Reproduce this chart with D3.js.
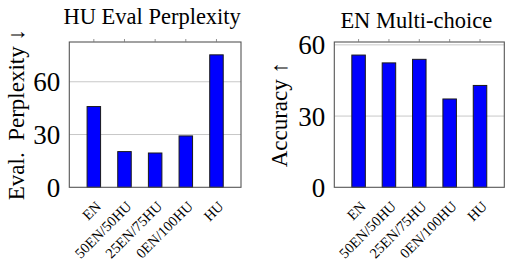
<!DOCTYPE html>
<html>
<head>
<meta charset="utf-8">
<script src="https://cdn.jsdelivr.net/npm/d3@7"></script>
<style>
  body { margin: 0; background: #fff; }
  text { font-family: "Liberation Serif", "Times New Roman", serif; fill: #000; }
</style>
</head>
<body>
<svg id="chart" width="506" height="264"></svg>
<script>
const mixes = ["EN", "50EN/50HU", "25EN/75HU", "0EN/100HU", "HU"];
const perplexity = [45.9, 20.3, 19.5, 29.2, 75.3];
const accuracy = [55.7, 52.4, 53.9, 37.2, 42.9];
const yTicks = [0, 30, 60];

const svg = d3.select("#chart");
const plotTop = 42, plotBottom = 187.3;

function panel(cfg) {
  const g = svg.append("g");
  const x = d3.scaleLinear().domain([-0.8, mixes.length - 0.2]).range([cfg.left, cfg.right]);
  const y = d3.scaleLinear().domain([0, cfg.ymax]).range([plotBottom, plotTop]);

  // grid
  g.selectAll(".grid").data(yTicks.filter(d => d > 0)).enter().append("line")
    .attr("x1", cfg.left).attr("x2", cfg.right)
    .attr("y1", d => y(d)).attr("y2", d => y(d))
    .attr("stroke", "#c8c8c8").attr("stroke-width", 1);

  // bars
  const bw = 13.5;
  g.selectAll(".bar").data(cfg.values).enter().append("rect")
    .attr("x", (d, i) => x(i) - bw / 2)
    .attr("y", d => y(d))
    .attr("width", bw)
    .attr("height", d => plotBottom - y(d))
    .attr("fill", "#0000ff")
    .attr("stroke", "#1a1a1a")
    .attr("stroke-width", 1);

  // frame
  g.append("rect")
    .attr("x", cfg.left).attr("y", plotTop)
    .attr("width", cfg.right - cfg.left).attr("height", plotBottom - plotTop)
    .attr("fill", "none").attr("stroke", "#555").attr("stroke-width", 1.1);

  // top ticks
  g.selectAll(".tt").data(mixes).enter().append("line")
    .attr("x1", (d, i) => x(i)).attr("x2", (d, i) => x(i))
    .attr("y1", plotTop).attr("y2", plotTop - 3)
    .attr("stroke", "#777").attr("stroke-width", 0.8);

  // y tick labels
  g.selectAll(".yl").data(yTicks).enter().append("text")
    .attr("x", cfg.left - 9)
    .attr("y", d => y(d) + 9.5)
    .attr("text-anchor", "end")
    .attr("font-size", 27)
    .text(d => d);

  // x tick labels
  g.selectAll(".xl").data(mixes).enter().append("text")
    .attr("transform", (d, i) => `translate(${x(i) + 8},${plotBottom + 20}) rotate(-45)`)
    .attr("text-anchor", "end")
    .attr("font-size", 14.5)
    .text(d => d);

  // title
  g.append("text")
    .attr("x", (cfg.left + cfg.right) / 2 - 3)
    .attr("y", cfg.titleY)
    .attr("text-anchor", "middle")
    .attr("font-size", 22.5)
    .text(cfg.title);

  // y label
  g.append("text")
    .attr("transform", `translate(${cfg.labelX},${(plotTop + plotBottom) / 2}) rotate(-90)`)
    .attr("text-anchor", "middle")
    .attr("font-size", 23)
    .text(cfg.ylabel);
}

panel({ left: 69.3, right: 241, ymax: 82.6, values: perplexity,
  title: "HU Eval Perplexity", titleY: 24, ylabel: "Eval.\u00a0 Perplexity \u2193", labelX: 24 });
panel({ left: 334.3, right: 504.3, ymax: 61.2, values: accuracy,
  title: "EN Multi-choice", titleY: 28, ylabel: "Accuracy \u2191", labelX: 287 });
</script>
</body>
</html>
